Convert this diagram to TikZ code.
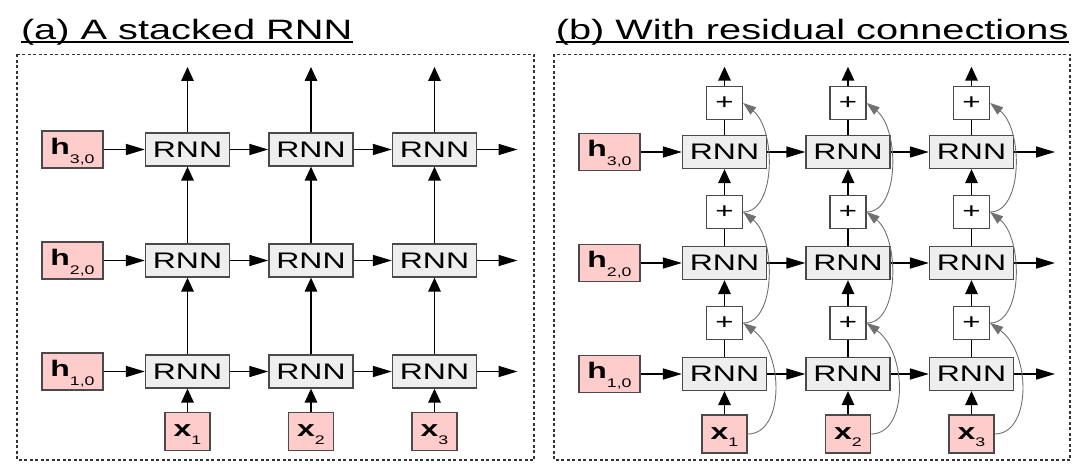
\documentclass[tikz,border=0pt]{standalone}
\usepackage{fontspec}
\newfontfamily\df[FakeStretch=1.42]{Liberation Sans}
\usetikzlibrary{arrows.meta,calc}
\definecolor{bd}{HTML}{4A4A4A}
\definecolor{rnnfill}{HTML}{EEEEEE}
\definecolor{pk}{HTML}{FFCCCC}
\definecolor{resgray}{HTML}{707070}
\definecolor{dotc}{HTML}{333333}
\newcommand{\hlab}[1]{\textbf{h}\raisebox{-9pt}{\fontsize{12.5}{12.5}\selectfont #1}}
\newcommand{\xlab}[1]{\textbf{x}\raisebox{-7.5pt}{\fontsize{12.5}{12.5}\selectfont #1}}
\begin{document}
\begin{tikzpicture}[x=1pt,y=-1pt,font=\df,
  ttl/.style={font=\df\fontsize{28}{30}\selectfont, inner sep=0pt, anchor=base west},
  panel/.style={draw=dotc, line width=1.4pt, dash pattern=on 3pt off 2.5pt},
  rnn/.style={draw=bd, fill=rnnfill, line width=1.3pt, minimum width=84pt, minimum height=33pt, inner sep=0pt, font=\df\fontsize{22.5}{22.5}\selectfont},
  hbox/.style={draw=bd, fill=pk, line width=1.3pt, minimum width=61pt, minimum height=37pt, inner sep=0pt, text height=16pt, text depth=6.4pt, font=\df\fontsize{22.5}{22.5}\selectfont},
  xbox/.style={draw=bd, fill=pk, line width=1.3pt, minimum width=45pt, minimum height=38pt, inner sep=0pt, text height=14pt, text depth=4pt, font=\df\fontsize{22.5}{22.5}\selectfont},
  plusbox/.style={draw=bd, fill=white, line width=1.3pt, minimum width=36pt, minimum height=33pt, inner sep=0pt, font=\df\fontsize{22}{22}\selectfont},
  harr/.style={-{Triangle[length=19pt,width=11pt]}, line width=1.6pt},
  varr/.style={-{Triangle[length=14pt,width=12.5pt]}, line width=1.6pt},
  plain/.style={line width=1.6pt},
  res/.style={-{Triangle[length=13pt,width=9pt]}, line width=0.9pt, draw=resgray}]
\useasboundingbox (0,0) rectangle (1092,473);

% titles
\node[ttl] (ta) at (20.8,39.5) {(a) A stacked RNN};
\draw[line width=1.4pt] ([yshift=-2.5pt]ta.base west) -- ([yshift=-2.5pt]ta.base east);
\node[ttl] (tb) at (555.6,39.5) {(b) With residual connections};
\draw[line width=1.4pt] ([yshift=-2.5pt]tb.base west) -- ([yshift=-2.5pt]tb.base east);

% panels
\draw[panel] (17,54.5) rectangle (534,460);
\draw[panel] (554,54.5) rectangle (1070,460);

% ---------- (a) stacked RNN ----------
\foreach \c/\x in {1/187.5,2/311,3/434.5}{
  \foreach \r/\y in {1/371.5,2/260.5,3/149.5}{
    \node[rnn] (a\r\c) at (\x,\y) {RNN};
  }
  \node[xbox] (ax\c) at (\x,431.7) {\xlab{\c}};
  \coordinate (at\c) at (\x,67);
}
\foreach \r/\y in {1/371.5,2/260.5,3/149.5}{
  \node[hbox] (ah\r) at (72.5,\y) {\hlab{\r,0}};
  \coordinate (ao\r) at (517.5,\y);
  \draw[harr] (ah\r) -- (a\r1);
  \draw[harr] (a\r1) -- (a\r2);
  \draw[harr] (a\r2) -- (a\r3);
  \draw[harr] (a\r3) -- (ao\r);
}
\foreach \c in {1,2,3}{
  \draw[varr] (ax\c) -- (a1\c);
  \draw[varr] (a1\c) -- (a2\c);
  \draw[varr] (a2\c) -- (a3\c);
  \draw[varr] (a3\c) -- (at\c);
}

% ---------- (b) residual ----------
\foreach \c/\x in {1/724.5,2/848,3/971.5}{
  \foreach \r/\y in {1/374,2/263,3/152}{
    \node[rnn] (b\r\c) at (\x,\y) {RNN};
  }
  \foreach \r/\y in {1/323,2/212,3/103}{
    \node[plusbox] (p\r\c) at (\x,\y) {+};
  }
  \node[xbox] (bx\c) at (\x,434) {\xlab{\c}};
  \coordinate (bt\c) at (\x,66.7);
}
\foreach \r/\y in {1/374,2/263,3/152}{
  \node[hbox] (bh\r) at (609.5,\y) {\hlab{\r,0}};
  \coordinate (bo\r) at (1055,\y);
  \draw[harr] (bh\r) -- (b\r1);
  \draw[harr] (b\r1) -- (b\r2);
  \draw[harr] (b\r2) -- (b\r3);
  \draw[harr] (b\r3) -- (bo\r);
}
\foreach \c in {1,2,3}{
  \draw[varr] (bx\c) -- (b1\c);
  \draw[plain] (b1\c) -- (p1\c);
  \draw[varr] (p1\c) -- (b2\c);
  \draw[plain] (b2\c) -- (p2\c);
  \draw[varr] (p2\c) -- (b3\c);
  \draw[plain] (b3\c) -- (p3\c);
  \draw[varr] (p3\c) -- (bt\c);
  \draw[res] (bx\c.east) .. controls +(37,0) and +(41,30) .. (p1\c.east);
  \draw[res] (p1\c.east) .. controls +(33,0) and +(33,26) .. (p2\c.east);
  \draw[res] (p2\c.east) .. controls +(33,0) and +(33,26) .. (p3\c.east);
}
\end{tikzpicture}
\end{document}
